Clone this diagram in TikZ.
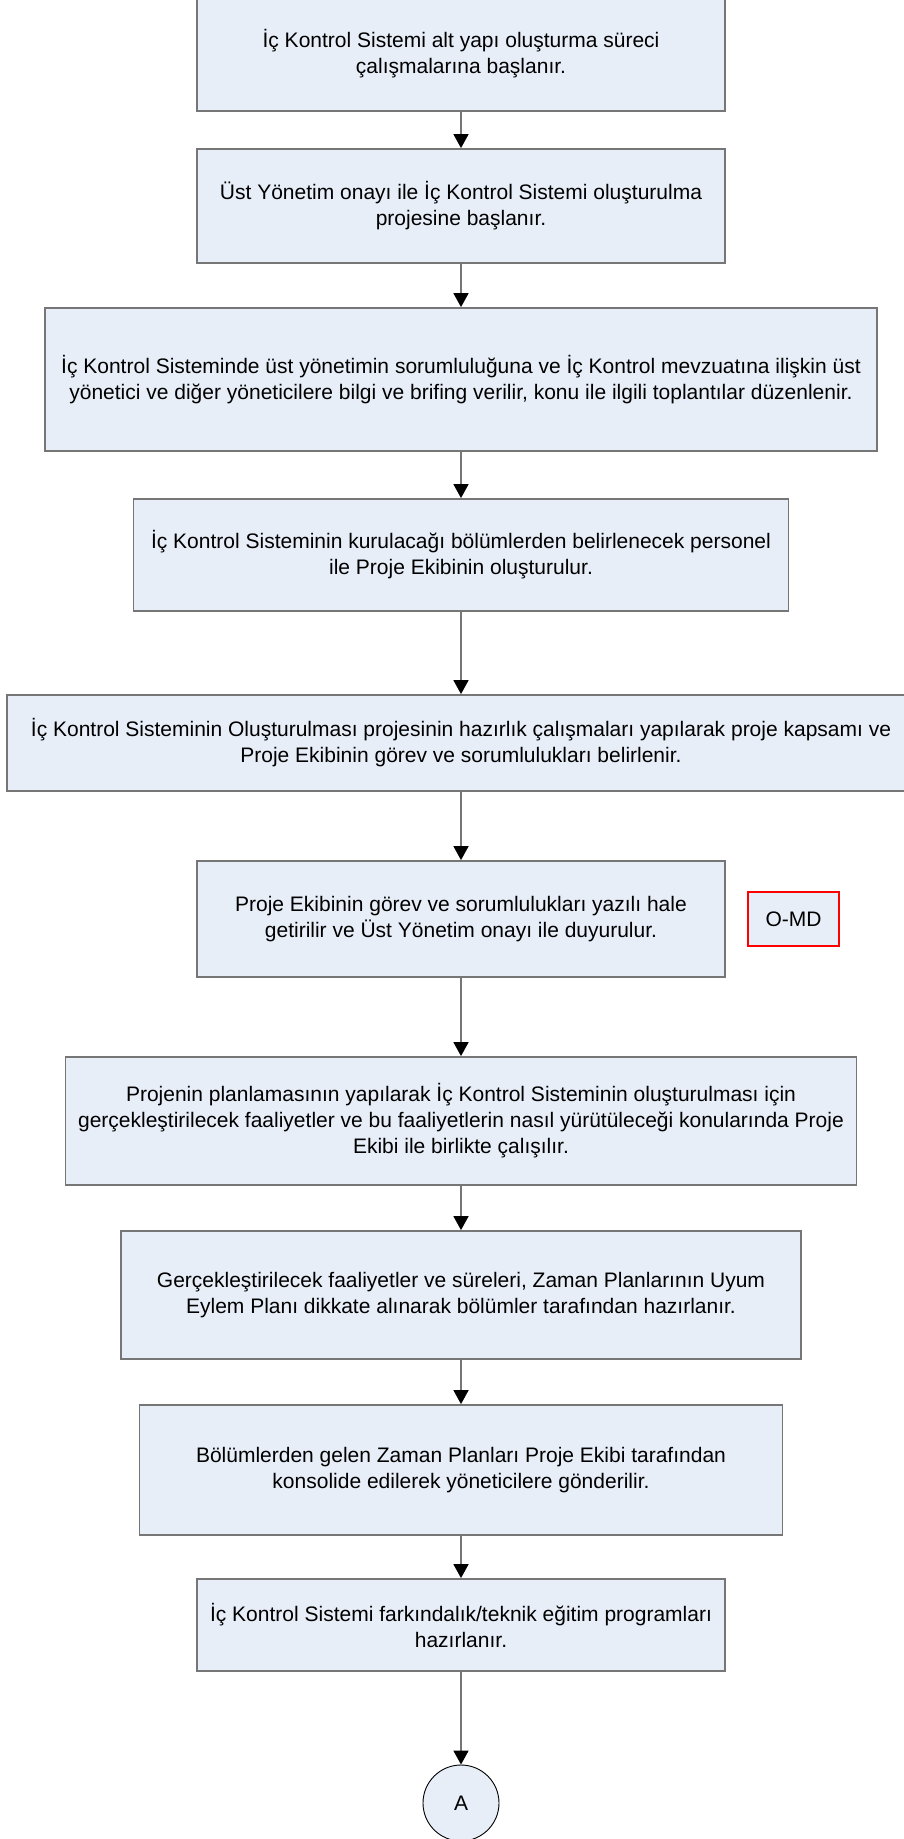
\documentclass[tikz,border=0pt]{standalone}
\usepackage{fontspec}
\setmainfont{Liberation Sans}
\usetikzlibrary{arrows.meta}
\definecolor{boxfill}{HTML}{E8EEF8}
\definecolor{boxline}{HTML}{767676}
\definecolor{omdred}{HTML}{FF0000}
\tikzset{
  box/.style={draw=boxline, line width=1.8pt, fill=boxfill, align=center, inner sep=0pt,
    font=\fontsize{21}{26}\selectfont},
  omdbox/.style={draw=omdred, line width=2.6pt, fill=boxfill, align=center, inner sep=0pt,
    font=\fontsize{21}{26}\selectfont},
  conn/.style={draw=boxline, line width=1.6pt, -{Triangle[length=14pt,width=15pt,color=black]}},
  connector/.style={circle, draw=black, line width=0.9pt, fill=boxfill, minimum size=76pt, inner sep=0pt,
    font=\fontsize{21}{26}\selectfont}
}
\begin{document}
\begin{tikzpicture}[x=1pt,y=-1pt]
\useasboundingbox (0,0) rectangle (904,1839);
\node[box, minimum width=528, minimum height=114] (b1) at (461,54) {İç Kontrol Sistemi alt yapı oluşturma süreci\\çalışmalarına başlanır.};
\node[box, minimum width=528, minimum height=114] (b2) at (461,206) {Üst Yönetim onayı ile İç Kontrol Sistemi oluşturulma\\projesine başlanır.};
\node[box, minimum width=832, minimum height=143] (b3) at (461,379.5) {İç Kontrol Sisteminde üst yönetimin sorumluluğuna ve İç Kontrol mevzuatına ilişkin üst\\yönetici ve diğer yöneticilere bilgi ve brifing verilir, konu ile ilgili toplantılar düzenlenir.};
\node[box, minimum width=655, minimum height=112] (b4) at (461,555) {İç Kontrol Sisteminin kurulacağı bölümlerden belirlenecek personel\\ile Proje Ekibinin oluşturulur.};
\node[box, minimum width=908, minimum height=96] (b5) at (461,743) {İç Kontrol Sisteminin Oluşturulması projesinin hazırlık çalışmaları yapılarak proje kapsamı ve\\Proje Ekibinin görev ve sorumlulukları belirlenir.};
\node[box, minimum width=528, minimum height=116] (b6) at (461,919) {Proje Ekibinin görev ve sorumlulukları yazılı hale\\getirilir ve Üst Yönetim onayı ile duyurulur.};
\node[omdbox, minimum width=91, minimum height=54] (omd) at (793.5,919) {O-MD};
\node[box, minimum width=791, minimum height=128] (b7) at (461,1121) {Projenin planlamasının yapılarak İç Kontrol Sisteminin oluşturulması için\\gerçekleştirilecek faaliyetler ve bu faaliyetlerin nasıl yürütüleceği konularında Proje\\Ekibi ile birlikte çalışılır.};
\node[box, minimum width=680, minimum height=128] (b8) at (461,1295) {Gerçekleştirilecek faaliyetler ve süreleri, Zaman Planlarının Uyum\\Eylem Planı dikkate alınarak bölümler tarafından hazırlanır.};
\node[box, minimum width=643, minimum height=130] (b9) at (461,1470) {Bölümlerden gelen Zaman Planları Proje Ekibi tarafından\\konsolide edilerek yöneticilere gönderilir.};
\node[box, minimum width=528, minimum height=92] (b10) at (461,1625) {İç Kontrol Sistemi farkındalık/teknik eğitim programları\\hazırlanır.};
\node[connector] (A) at (461,1803) {A};
\draw[conn] (b1.south) -- (b2.north);
\draw[conn] (b2.south) -- (b3.north);
\draw[conn] (b3.south) -- (b4.north);
\draw[conn] (b4.south) -- (b5.north);
\draw[conn] (b5.south) -- (b6.north);
\draw[conn] (b6.south) -- (b7.north);
\draw[conn] (b7.south) -- (b8.north);
\draw[conn] (b8.south) -- (b9.north);
\draw[conn] (b9.south) -- (b10.north);
\draw[conn] (b10.south) -- (A.north);
\end{tikzpicture}
\end{document}
